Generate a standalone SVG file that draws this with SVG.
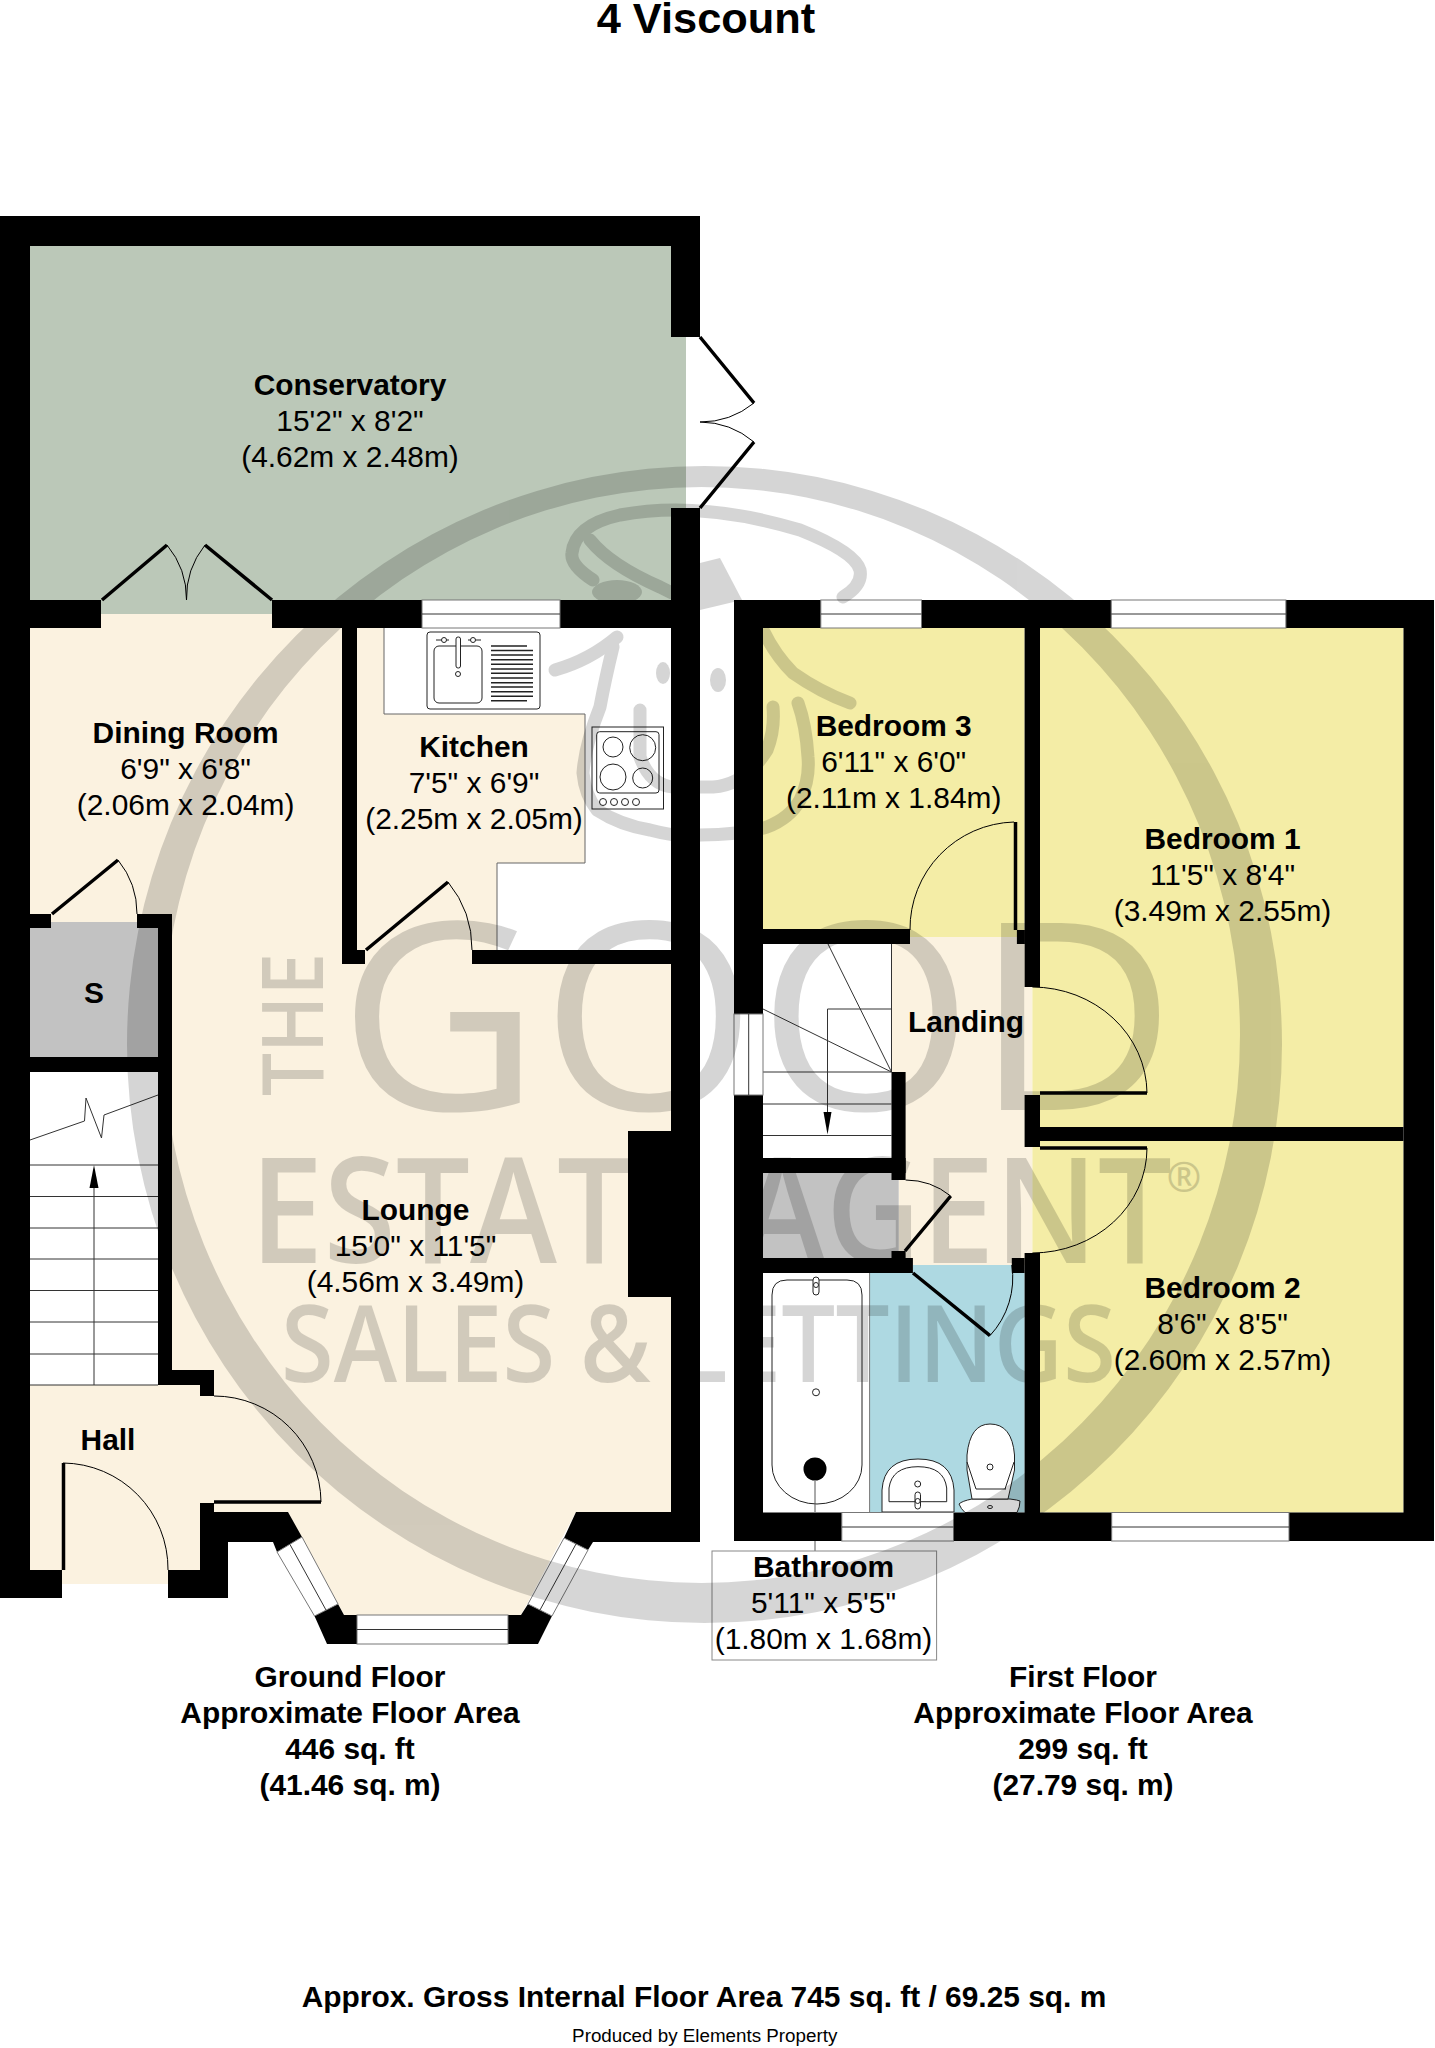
<svg xmlns="http://www.w3.org/2000/svg" width="1435" height="2048" viewBox="0 0 1435 2048">
<style>
text{font-family:"Liberation Sans",Arial,sans-serif;font-size:29.900px;fill:#000;text-anchor:middle}
.b{font-weight:700}
.wall{fill:#000;stroke:none}
.win{fill:#fff;stroke:#777;stroke-width:1}
.ln{fill:none;stroke:#333;stroke-width:1}
.fx{fill:#fff;stroke:#222;stroke-width:1}
.leaf{fill:none;stroke:#000;stroke-width:3.5}
.arc{fill:none;stroke:#000;stroke-width:1}
.cream{fill:#fbf2e0}.yel{fill:#f4eda6}.grey{fill:#c2c2c2}.blue{fill:#aed9e2}
.wm text{font-family:"Open Sans",sans-serif;fill:#000;font-weight:600}
.wms{fill:none;stroke:#000;stroke-width:13;stroke-linecap:round;stroke-linejoin:round}
</style>
<rect width="1435" height="2048" fill="#fff"/>
<g id="title"><text class="b" x="706" y="33" style="font-size:43.4px">4 Viscount</text></g>

<g id="fills">
<path id="fill-ground" class="cream" d="M30 614H342V964H671V1512H576L521 1615H344L288 1512H200V1570H168V1584H62V1570H30Z"/>
<path id="fill-conservatory" fill="#bbc8b8" d="M30 246H671V337H686V508H671V600H272V614H101V600H30Z"/>
<rect id="fill-storage" class="grey" x="30" y="922" width="128" height="135"/>
<rect id="fill-stairs-g" fill="#fff" x="30" y="1072" width="128" height="313"/>
<rect class="yel" x="763" y="628" width="261.600" height="309"/>
<path class="cream" d="M891.500 937H1032.400V1265H898.700V1072H891.500Z"/>
<rect fill="#fff" x="763" y="944" width="128.500" height="214"/>
<path class="yel" d="M1040 628H1403.500V1127H1040V1095H1032.400V987H1040Z"/>
<path class="yel" d="M1040 1141H1403.500V1512.500H1040V1253H1032.400V1147H1040Z"/>
<rect class="grey" x="763" y="1173" width="135.700" height="85"/>
<path class="blue" d="M869.600 1273H912.900V1265H1011.800V1273H1024.600V1512.500H869.600Z"/>
<rect fill="#fff" x="763" y="1273" width="106.600" height="239.500"/>
</g>

<g id="kitchen-fittings">
<path class="cream" d="M357 628H384V714H585V863H497V964H357Z"/>
<path fill="none" stroke="#666" d="M384 628V714H585V863H497V950"/>
<rect class="fx" x="427" y="632" width="113" height="77" rx="3"/>
<rect class="fx" x="434" y="646" width="48" height="57" rx="5"/>
<rect class="fx" x="456" y="637" width="4.500" height="31" rx="2"/>
<circle class="fx" cx="458" cy="674" r="2.500"/>
<path class="fx" d="M436 640h13M468 640h13"/><circle class="fx" cx="444" cy="640" r="2.500"/><circle class="fx" cx="473" cy="640" r="2.500"/>
<path stroke="#222" stroke-width="1.500" fill="none" d="M491 646h36M491 650.500h42M491 655h42M491 659.700h42M491 664.300h42M491 669h42M491 673.300h42M491 678h42M491 682.700h42M491 687h42M491 691.700h42M491 696.300h42M491 700.700h36"/>
<rect class="fx" style="fill:none" x="592" y="727" width="71.500" height="82"/>
<rect class="fx" style="fill:none" x="596.700" y="731.700" width="62.300" height="61.300" rx="3"/>
<g class="fx" style="fill:none"><circle cx="613" cy="747" r="10"/><circle cx="642.700" cy="747.700" r="13"/><circle cx="613" cy="777" r="13"/><circle cx="642.700" cy="778" r="10"/><circle cx="603" cy="802" r="3.500"/><circle cx="614" cy="802" r="3.500"/><circle cx="625" cy="802" r="3.500"/><circle cx="636" cy="802" r="3.500"/></g>
</g>

<g id="stairs-ground">
<path class="ln" d="M30 1165H158M30 1196.500H158M30 1228H158M30 1259H158M30 1290.500H158M30 1322H158M30 1354H158M30 1385H158M94 1385V1185"/>
<path d="M94 1165L98.500 1188H89.500Z" fill="#000"/>
<path class="ln" d="M30 1140L84.500 1121L86 1098L101.500 1138L104 1115L158 1095"/>
</g>
<g id="stairs-first">
<path class="ln" d="M891.500 944V1072M828 944L891.500 1072M763 1009L891.500 1072M891.500 1009H827.500V1115M763 1072H891.500M763 1104H891.500M763 1135.500H891.500"/>
<path d="M827.500 1134.500L823.500 1112H831.500Z" fill="#000"/>
</g>

<g id="bathroom-fittings">
<path fill="none" stroke="#777" d="M869.600 1273V1512.500"/>
<path class="fx" d="M772 1295Q772 1280 787 1280H847Q862 1280 862 1295V1465A45 39 0 0 1 772 1465Z"/>
<circle class="fx" cx="816" cy="1392.300" r="3.500"/>
<circle cx="815" cy="1469" r="11.500" fill="#000"/>
<rect class="fx" x="813" y="1277" width="6" height="18" rx="3"/><circle class="fx" cx="816" cy="1285" r="2.500"/>
<path class="fx" d="M882 1512V1490Q884 1459 918 1459Q952 1459 954 1490V1512Z"/>
<path class="fx" d="M889 1501.700V1488Q892 1466.700 918 1466.700Q944 1466.700 946.700 1488V1501.700Z"/>
<circle class="fx" cx="917.700" cy="1484" r="3"/>
<rect class="fx" x="915" y="1492" width="5.500" height="17" rx="2.700"/><circle class="fx" cx="917.700" cy="1501" r="2.500"/>
<path class="fx" d="M959 1504Q962 1501 972 1499H1010Q1018 1500 1020 1501Q1020 1507 1017 1512.500H965Q961 1509 959 1504Z"/>
<path class="fx" d="M972 1499L967 1470V1455Q970 1424 990 1424Q1012 1424 1014.500 1455V1470L1008 1499Z"/>
<path class="fx" d="M976 1489L967 1462M1005 1489L1014 1462M976 1489H1006"/>
<circle class="fx" cx="990" cy="1467" r="3"/>
<ellipse class="fx" cx="990" cy="1507" rx="2.500" ry="1.500"/>
</g>

<g id="walls">
<rect class="wall" x="0" y="216" width="700" height="30"/>
<rect class="wall" x="0" y="216" width="30" height="1382"/>
<rect class="wall" x="671" y="216" width="29" height="121"/>
<rect class="wall" x="671" y="508" width="29" height="1034"/>
<rect class="wall" x="30" y="600" width="71" height="28"/>
<rect class="wall" x="272" y="600" width="399" height="28"/>
<rect class="wall" x="342" y="628" width="15" height="331"/>
<rect class="wall" x="342" y="950" width="23" height="14"/>
<rect class="wall" x="472" y="950" width="199" height="14"/>
<rect class="wall" x="628" y="1131" width="43" height="166"/>
<polygon class="wall" points="576,1512 700,1512 700,1542 593,1542 588,1550 564,1538"/>
<polygon class="wall" points="200,1503 214,1503 214,1512 288,1512 302,1537 277,1552 273,1542 228,1542 228,1598 168,1598 168,1570 200,1570"/>
<polygon class="wall" points="158,914 172,914 172,1370 214,1370 214,1396 200,1396 200,1385 158,1385"/>
<rect class="wall" x="30" y="914" width="21" height="14"/>
<rect class="wall" x="137" y="914" width="21" height="14"/>
<rect class="wall" x="30" y="1057" width="128" height="15"/>
<rect class="wall" x="0" y="1570" width="62" height="28"/>
<polygon class="wall" points="314.500,1616 338,1604 344,1615 357,1615 357,1644 327,1644"/>
<polygon class="wall" points="508,1615 521,1615 528,1604 552,1616 538,1644 508,1644"/>
<rect class="wall" x="734" y="600" width="700" height="28"/>
<rect class="wall" x="734" y="600" width="29" height="941"/>
<rect class="wall" x="1403.500" y="600" width="30.500" height="941"/>
<rect class="wall" x="734" y="1512.500" width="700" height="28.500"/>
<rect class="wall" x="1024.600" y="628" width="15.400" height="359"/>
<rect class="wall" x="1016.900" y="930" width="8" height="14"/>
<rect class="wall" x="763" y="929" width="147" height="15"/>
<rect class="wall" x="1024.600" y="1095" width="15.400" height="52"/>
<rect class="wall" x="1040" y="1127" width="363.500" height="14"/>
<rect class="wall" x="891.500" y="1072" width="14.100" height="108"/>
<rect class="wall" x="763" y="1158" width="142.600" height="15"/>
<rect class="wall" x="763" y="1258" width="149.900" height="15"/>
<rect class="wall" x="891.500" y="1251" width="14.100" height="7"/>
<rect class="wall" x="1011.800" y="1258" width="12.800" height="15"/>
<rect class="wall" x="1024.600" y="1253" width="15.400" height="260"/>
</g>

<g id="windows">
<g id="win-kitchen"><rect class="win" x="422" y="600" width="138" height="28"/><path class="ln" d="M422 614H560"/></g>
<g id="win-bay-l"><polygon class="win" points="277,1552 302,1537 338,1604 314.500,1616"/><path class="ln" d="M290 1544.500L326 1610"/></g>
<g id="win-bay-c"><rect class="win" x="357" y="1615" width="151" height="29"/><path class="ln" d="M357 1629.500H508"/></g>
<g id="win-bay-r"><polygon class="win" points="564,1538 588,1550 552,1616 528,1604"/><path class="ln" d="M576 1544L540 1610"/></g>
<g id="win-bed3"><rect class="win" x="820.800" y="600" width="100.700" height="28"/><path class="ln" d="M820.800 614H921.500"/></g>
<g id="win-bed1"><rect class="win" x="1111.200" y="600" width="174.700" height="28"/><path class="ln" d="M1111.200 614H1285.900"/></g>
<g id="win-stairs"><rect class="win" x="734" y="1014" width="29" height="81"/><path class="ln" d="M748.700 1014V1095"/></g>
<g id="win-bath"><rect class="win" x="841.800" y="1512.500" width="111.700" height="28.500"/><path class="ln" d="M841.800 1527H953.500"/></g>
<g id="win-bed2"><rect class="win" x="1111.700" y="1512.500" width="177.300" height="28.500"/><path class="ln" d="M1111.700 1527H1289"/></g>
</g>

<g id="doors">
<path class="leaf" d="M102 600L167 545M272 600L205 545M700 337L754 403M700 508L754 442M52 914L118 860M366 950L448 882M214 1502H321M63.500 1463V1570"/>
<path class="leaf" d="M1015.500 822V930M1040 1093H1147M1040 1148H1147M905 1251L950.700 1196M913 1273L990 1335.600"/>
<path class="arc" d="M167 545A85 85 0 0 1 186.500 600M205 545A85 85 0 0 0 186.500 600M754 403A85 85 0 0 1 700 422M754 442A85 85 0 0 0 700 422M118 860A85 85 0 0 1 137 914M448 882A106 106 0 0 1 472 950M214 1396A107 107 0 0 1 321 1502M63 1463A106 106 0 0 1 168 1570"/>
<path class="arc" d="M1014 822A107 107 0 0 0 910 930M1032.400 987A115 107 0 0 1 1147 1093M1147 1148A115 105 0 0 1 1032.400 1253M905.600 1180A72 72 0 0 1 950.700 1196M990 1335.600A85 85 0 0 0 1011.800 1265"/>
</g>

<g id="connectors">
<path fill="none" stroke="#555" d="M815 1481V1512M815 1541V1551"/>
</g>

<g id="room-conservatory"><text class="b" x="350" y="395">Conservatory</text><text x="350" y="431">15'2" x 8'2"</text><text x="350" y="467">(4.62m x 2.48m)</text></g>
<g id="room-dining"><text class="b" x="185.600" y="743">Dining Room</text><text x="185.600" y="779">6'9" x 6'8"</text><text x="185.600" y="815">(2.06m x 2.04m)</text></g>
<g id="room-kitchen"><text class="b" x="474" y="757">Kitchen</text><text x="474" y="793">7'5" x 6'9"</text><text x="474" y="829">(2.25m x 2.05m)</text></g>
<g id="room-storage"><text class="b" x="94" y="1003">S</text></g>
<g id="room-lounge"><text class="b" x="415.500" y="1220">Lounge</text><text x="415.500" y="1256">15'0" x 11'5"</text><text x="415.500" y="1292">(4.56m x 3.49m)</text></g>
<g id="room-hall"><text class="b" x="108" y="1450">Hall</text></g>
<g id="room-bedroom3"><text class="b" x="893.700" y="736">Bedroom 3</text><text x="893.700" y="772">6'11" x 6'0"</text><text x="893.700" y="808">(2.11m x 1.84m)</text></g>
<g id="room-bedroom1"><text class="b" x="1222.500" y="849">Bedroom 1</text><text x="1222.500" y="885">11'5" x 8'4"</text><text x="1222.500" y="921">(3.49m x 2.55m)</text></g>
<g id="room-landing"><text class="b" x="966" y="1032">Landing</text></g>
<g id="room-bedroom2"><text class="b" x="1222.500" y="1298">Bedroom 2</text><text x="1222.500" y="1334">8'6" x 8'5"</text><text x="1222.500" y="1370">(2.60m x 2.57m)</text></g>
<g id="room-bathroom"><rect x="712" y="1551" width="224.600" height="109" fill="#fff" stroke="#888"/><text class="b" x="823.500" y="1576.500">Bathroom</text><text x="823.500" y="1612.500">5'11" x 5'5"</text><text x="823.500" y="1648.500">(1.80m x 1.68m)</text></g>

<g id="captions">
<g id="ground-floor-area"><text class="b" x="350" y="1687">Ground Floor</text><text class="b" x="350" y="1723">Approximate Floor Area</text><text class="b" x="350" y="1759">446 sq. ft</text><text class="b" x="350" y="1795">(41.46 sq. m)</text></g>
<g id="first-floor-area"><text class="b" x="1083" y="1687">First Floor</text><text class="b" x="1083" y="1723">Approximate Floor Area</text><text class="b" x="1083" y="1759">299 sq. ft</text><text class="b" x="1083" y="1795">(27.79 sq. m)</text></g>
<text class="b" x="704" y="2006.700">Approx. Gross Internal Floor Area 745 sq. ft / 69.25 sq. m</text>
<text x="704.700" y="2041.700" style="font-size:18.800px">Produced by Elements Property</text>
</g>

<g id="watermark" class="wm" opacity="0.16">
<path fill="#000" fill-rule="evenodd" d="M127 1044.500A577.500 578.500 0 1 1 1282 1044.500A577.500 578.500 0 1 1 127 1044.500ZM163 1035A538.500 548 0 1 0 1240 1035A538.500 548 0 1 0 163 1035Z"/>
<path class="wms" d="M593 580Q570 565 572 553Q575 525 620 515Q700 500 800 530Q855 552 860 570Q863 585 843 597"/>
<path class="wms" d="M590 540Q610 565 660 587L672 593"/>
<ellipse cx="617" cy="592" rx="25" ry="12"/>
<polygon points="700,563 720,558 742,600 700,610"/>
<path class="wms" d="M555 670Q590 660 617 637"/>
<path class="wms" d="M613 647Q605 680 600 707Q585 745 583 773Q585 795 597 810Q620 825 650 830Q680 838 700 835Q740 835 767 827Q790 818 800 800Q810 780 808 757Q806 725 798 703"/>
<ellipse cx="663" cy="673" rx="7" ry="11"/><ellipse cx="718" cy="680" rx="8" ry="12"/>
<path class="wms" d="M640 710V757Q650 785 673 787H713Q745 785 767 750Q775 730 773 707"/>
<path class="wms" d="M763 630Q775 655 793 673Q820 692 850 703"/>
<text transform="translate(323 1096) rotate(-90)" x="0" y="0" textLength="143" lengthAdjust="spacingAndGlyphs" style="font-size:85px;text-anchor:start">THE</text>
<text x="338" y="1110" textLength="838" lengthAdjust="spacingAndGlyphs" style="font-size:262px;text-anchor:start;font-weight:500">GOOD</text>
<text x="250" y="1263" textLength="922" lengthAdjust="spacingAndGlyphs" style="font-size:147px;text-anchor:start">ESTATE AGENT</text>
<text x="1184" y="1192" style="font-size:42px">®</text>
<text x="281" y="1382" textLength="835" lengthAdjust="spacingAndGlyphs" style="font-size:106px;text-anchor:start">SALES &amp; LETTINGS</text>
</g>
</svg>
